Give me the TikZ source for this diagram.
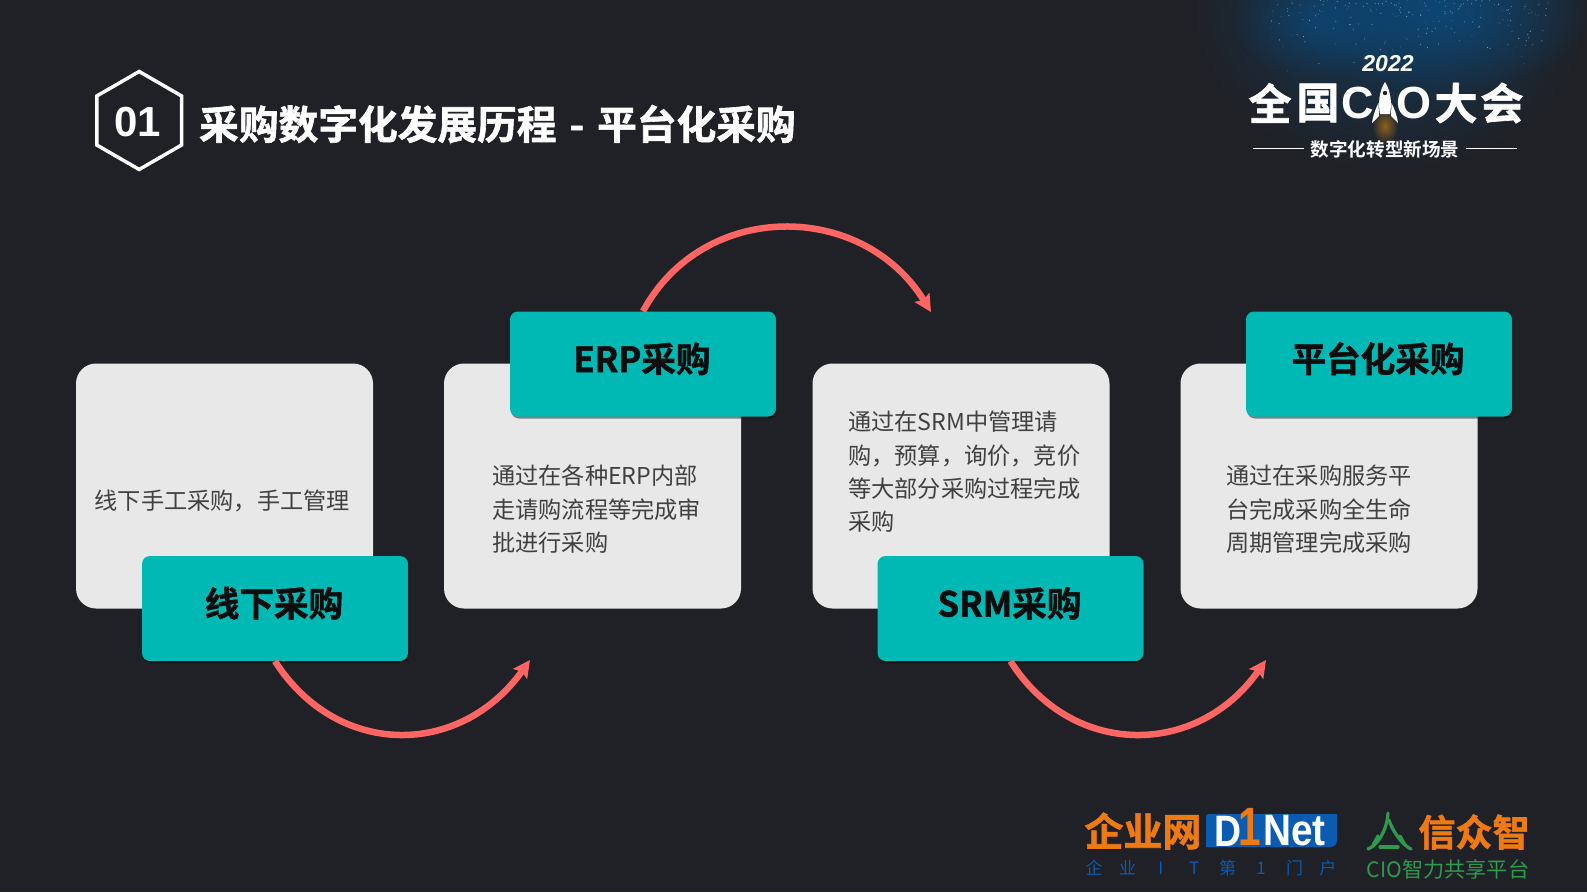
\documentclass[tikz,border=0pt]{standalone}
\usepackage{fontspec}
\setmainfont{Noto Sans CJK SC}
\newfontfamily\heavyf[FakeBold=1.5]{Noto Sans CJK SC Bold}
\newfontfamily\boldf{Noto Sans CJK SC Bold}
\newfontfamily\arialf{Liberation Sans}
\usetikzlibrary{shapes.geometric,shadows,arrows.meta,fadings}
\definecolor{bgc}{HTML}{202126}
\definecolor{cardc}{HTML}{E8E8E8}
\definecolor{tealc}{HTML}{00B8B4}
\definecolor{bodyc}{HTML}{404040}
\definecolor{arcc}{HTML}{FF6663}
\definecolor{nebula}{HTML}{0B4A7C}
\definecolor{logoblue}{HTML}{0B5BB0}
\definecolor{logoorange}{HTML}{EE7A14}
\definecolor{logogreen}{HTML}{2E9A4E}
\newcommand{\fs}[2]{\fontsize{#1}{#2}\selectfont}
\newcommand{\spch}[1]{\makebox[33.4pt]{#1}}
\newcommand{\lift}[1]{\raisebox{-8pt}[0pt][0pt]{#1}}
\tikzfading[name=softblob,inner color=transparent!15,outer color=transparent!100]
\tikzset{
  cardbox/.style={draw=none,fill=cardc,rounded corners=20pt,minimum width=297pt,minimum height=245pt,inner sep=0pt},
  labelbox/.style={draw=none,fill=tealc,rounded corners=8pt,minimum width=266pt,minimum height=105pt,inner sep=0pt,
    text=black!95,font=\heavyf\fs{34.6}{40},
    drop shadow={shadow xshift=1pt,shadow yshift=-2pt,opacity=.45,fill=black}},
  bodytext/.style={anchor=west,align=left,inner sep=0pt,text=bodyc,font=\fs{23.2}{33.4}},
  arcline/.style={draw=arcc,line width=6.5pt,-{Stealth[length=17pt,width=17pt,inset=3pt]}},
  whitetext/.style={inner sep=0pt,text=white},
}
\begin{document}
\begin{tikzpicture}[x=1pt,y=-1pt]
\useasboundingbox (0,0) rectangle (1587,892);
\fill[bgc] (0,0) rectangle (1587,892);
% night sky, top right
\begin{scope}
  \clip (1190,0) rectangle (1587,225);
  \fill[nebula,path fading=softblob,opacity=.7] (1390,0) ellipse (205 and 175);
  \fill[nebula,path fading=softblob,opacity=1] (1440,10) ellipse (150 and 85);
  \fill[nebula,path fading=softblob,opacity=.8] (1320,20) ellipse (90 and 60);
  \pgfmathsetseed{4217}
  \foreach \i in {1,...,190}{
    \pgfmathsetmacro{\sx}{1270+rnd*280}
    \pgfmathsetmacro{\sy}{rnd*rnd*75}
    \pgfmathsetmacro{\so}{.15+.45*rnd}
    \fill[white,opacity=\so] (\sx,\sy) circle (.55);
  }
\end{scope}
% CIO logo
\node[whitetext,font=\arialf\bfseries\itshape\fs{23}{25}] (year) at (1388,63.5) {2022};
\node[whitetext,font=\heavyf\fs{43}{46}] (quan) at (1270,103) {全};
\node[whitetext,font=\heavyf\fs{43}{46}] (guo) at (1318,103) {国};
\node[whitetext,font=\arialf\bfseries\fs{45}{50}] (cc) at (1358,103) {C};
\node[whitetext,font=\arialf\bfseries\fs{45}{50}] (oo) at (1414,103) {O};
\node[whitetext,font=\heavyf\fs{43}{46}] (da) at (1456,103) {大};
\node[whitetext,font=\heavyf\fs{43}{46}] (hui) at (1502,103) {会};
% rocket
\fill[orange!80!yellow,path fading=softblob,opacity=.6] (1385,126) ellipse (13 and 18);
\fill[white] (1385,82) .. controls (1379,91) and (1378,104) .. (1380,114) -- (1390,114) .. controls (1392,104) and (1391,91) .. (1385,82) -- cycle;
\fill[white] (1378.5,103) .. controls (1376,108) and (1373,115) .. (1372,123) -- (1379,116) -- cycle;
\fill[white] (1391.5,103) .. controls (1394,108) and (1397,115) .. (1398,123) -- (1391,116) -- cycle;
\fill[bgc] (1385,93) circle (2.2);
\node[whitetext,font=\boldf\fs{18.6}{20}] (slogan) at (1385,149.5) {数字化转型新场景};
\coordinate (la) at (1253,148.5); \coordinate (lb) at (1304,148.5);
\coordinate (lc) at (1466,148.5); \coordinate (ld) at (1517,148.5);
\draw[white,line width=1pt] (la) -- (lb);
\draw[white,line width=1pt] (lc) -- (ld);
% heading
\node[regular polygon,regular polygon sides=6,shape border rotate=30,minimum size=98pt,inner sep=0pt,draw=white,line width=3.5pt,
  drop shadow={shadow xshift=1pt,shadow yshift=-2pt,opacity=.4,fill=black},fill=bgc] (hex) at (139.2,120.5) {};
\node[whitetext,font=\arialf\bfseries\fs{42}{44}] (num) at (137.5,122.5) {01};
\node[whitetext,anchor=west,font=\heavyf\fs{39.7}{44}] (title) at (199,124) {采购数字化发展历程\hspace{4pt} - \hspace{4pt}平台化采购};
% cards
\node[cardbox] (c1) at (224.5,486) {};
\node[cardbox] (c2) at (592.5,486) {};
\node[cardbox] (c3) at (961,486) {};
\node[cardbox] (c4) at (1329,486) {};
% card text
\node[bodytext] (t1) at (94.5,500.5) {线下手工采购，手工管理};
\node[bodytext] (t2) at (492,509.5) {通过在各种ERP内部\\走请购流程等完成审\\批进行采购};
\node[bodytext] (t3) at (848,472) {通过在SRM中管理请\\购，预算，询价，竞价\\等大部分采购过程完成\\采购};
\node[bodytext] (t4) at (1226,509.5) {通过在采购服务平\\台完成采购全生命\\周期管理完成采购};
% connector ends
\coordinate (e1) at (530,660);
\coordinate (e2) at (931,312);
\coordinate (e3) at (1266,660);
\node[labelbox] (b1) at (275,608.5) {\lift{线下采购\hspace{2pt}}};
\node[labelbox] (b2) at (643,364) {\lift{ERP采购\hspace{2pt}}};
\node[labelbox] (b3) at (1010.5,608.5) {\lift{SRM采购\hspace{2pt}}};
\node[labelbox] (b4) at (1379,364) {\lift{平台化采购\hspace{2pt}}};
\draw[arcline] (b1.south) .. controls (337,758) and (460,758) .. (e1);
\draw[arcline] (b2.north) .. controls (703,200) and (862,200) .. (e2);
\draw[arcline] (b3.south) .. controls (1072,758) and (1197,758) .. (e3);
% D1Net logo
\node[inner sep=0pt,text=logoorange,font=\heavyf\fs{39}{42}] (qyw) at (1143,831) {企业网};
\fill[logoblue] (1209,814) -- (1337,814) -- (1337,840) .. controls (1337,845) and (1334,847) .. (1330,847) -- (1206,847) -- (1206,817) .. controls (1206,815) and (1207,814) .. (1209,814) -- cycle;
\node[whitetext,font=\arialf\bfseries\fs{44}{44}] (dd) at (1228,831) {\scalebox{.85}[1]{D}};
\node[inner sep=0pt,text=logoorange,font=\arialf\bfseries\fs{54}{56}] (one) at (1250,827) {\scalebox{.75}[1]{1}};
\node[whitetext,anchor=west,font=\arialf\bfseries\fs{44}{44}] (net) at (1263,831) {\scalebox{.88}[1]{Net}};
\node[inner sep=0pt,text=logoblue,font=\fs{17}{20}] (sub) at (1211,868) {\spch{企}\spch{业}\spch{I}\spch{T}\spch{第}\spch{1}\spch{门}\spch{户}};
% Xinzhongzhi logo
\draw[logogreen,line width=3.2pt,line cap=round] (1368,849) .. controls (1378,845) and (1387,830) .. (1388,813);
\draw[logogreen,line width=3.2pt,line cap=round] (1411,849) .. controls (1402,845) and (1392,830) .. (1389,820);
\draw[logogreen,line width=3.2pt,line cap=round] (1380,847) -- (1398,847);
\draw[logogreen,line width=3.2pt,line cap=round] (1378,836) -- (1373,845);
\draw[logogreen,line width=3.2pt,line cap=round] (1400,836) -- (1405,845);
\node[inner sep=0pt,text=logoorange,font=\heavyf\fs{37}{40}] (xzz) at (1474,832) {信众智};
\node[inner sep=0pt,text=logogreen,font=\fs{21.2}{24}] (cio) at (1448,869) {CIO智力共享平台};
\end{tikzpicture}
\end{document}
